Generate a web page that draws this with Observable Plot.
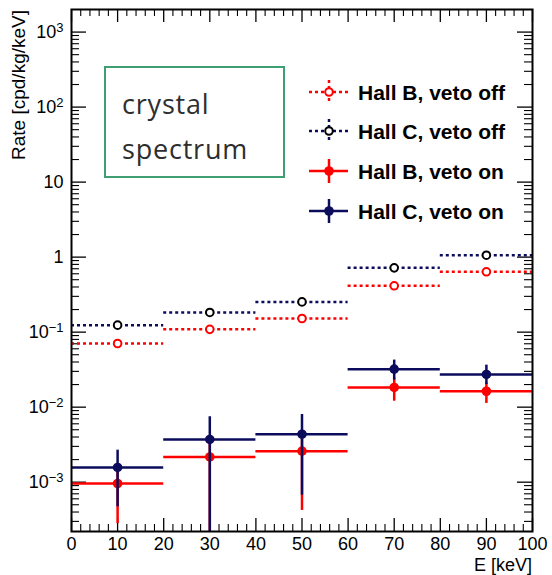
<!DOCTYPE html>
<html><head><meta charset="utf-8">
<script src="https://cdn.jsdelivr.net/npm/d3@7"></script>
<script src="https://cdn.jsdelivr.net/npm/@observablehq/plot@0.6"></script>
<style>body{margin:0;background:#fff} svg{display:block}</style>
</head><body><div id="chart"></div>
<script>
// ---- data ----
const binLow    = [0, 20, 40, 60, 80];
const binHigh   = [20, 40, 60, 80, 100];
const binCenter = [10, 30, 50, 70, 90];

const hallBVetoOff = [0.0706, 0.109, 0.152, 0.415, 0.637];
const hallCVetoOff = [0.124, 0.183, 0.253, 0.72, 1.06];

const hallBVetoOn   = [0.00096, 0.00217, 0.00259, 0.0183, 0.0163];
const hallBVetoOnHi = [0.0016, 0.0040, 0.0045, 0.0245, 0.021];
const hallBVetoOnLo = [0.00028, null, 0.00042, 0.0120, 0.0112];

const hallCVetoOn   = [0.00157, 0.00371, 0.00436, 0.0321, 0.0273];
const hallCVetoOnHi = [0.00267, 0.00743, 0.00798, 0.0424, 0.0363];
const hallCVetoOnLo = [0.00047, null, 0.00067, 0.023, 0.020];

const yMajorTicks = [1e-3, 1e-2, 1e-1, 1, 10, 100, 1000];
const yTickBase = ["10", "10", "10", "1", "10", "10", "10"];
const yTickExp  = ["\u22123", "\u22122", "\u22121", "", "", "2", "3"];
const xMajorTicks = [0, 10, 20, 30, 40, 50, 60, 70, 80, 90, 100];
const xMinorTicks = d3.range(0, 101, 2).filter(v => v % 10 !== 0);

const legendLabels = ["Hall B, veto off", "Hall C, veto off", "Hall B, veto on", "Hall C, veto on"];
const annotationLines = ["crystal", "spectrum"];
const xLabel = "E [keV]";
const yLabel = "Rate [cpd/kg/keV]";

const RED = "#ff0000", NAVY = "#0c0c5c";
const FONT = "'Liberation Sans', Arial, sans-serif";
const yDomain = [2.2e-4, 2000];
const yMinorTicks = [];
for (let e = -4; e <= 3; e++) for (let m = 2; m <= 9; m++) {
  const v = m * Math.pow(10, e);
  if (v > yDomain[0] && v < yDomain[1]) yMinorTicks.push(v);
}

const table = (vals, hi, lo) => binCenter.map((c, i) => ({
  c, x0: binLow[i], x1: binHigh[i], v: vals[i],
  hi: hi ? hi[i] : null, lo: lo ? (lo[i] == null ? 1e-6 : lo[i]) : null
}));
const offB = table(hallBVetoOff), offC = table(hallCVetoOff);
const onB = table(hallBVetoOn, hallBVetoOnHi, hallBVetoOnLo);
const onC = table(hallCVetoOn, hallCVetoOnHi, hallCVetoOnLo);

const W = 552, H = 575, mt = 9, mr = 20, mb = 44, ml = 71;
const fw = W - ml - mr, fh = H - mt - mb;

const chart = Plot.plot({
  width: W, height: H,
  marginTop: mt, marginRight: mr, marginBottom: mb, marginLeft: ml,
  style: {fontFamily: FONT, color: "black", background: "white"},
  x: {domain: [0, 100]},
  y: {type: "log", domain: yDomain},
  marks: [
    // ticks (ROOT style, inward, mirrored)
    Plot.tickY(yMajorTicks, {y: d => d, insetRight: fw - 15, strokeWidth: 1.3}),
    Plot.tickY(yMajorTicks, {y: d => d, insetLeft: fw - 15, strokeWidth: 1.3}),
    Plot.tickY(yMinorTicks, {y: d => d, insetRight: fw - 8, strokeWidth: 1.1}),
    Plot.tickY(yMinorTicks, {y: d => d, insetLeft: fw - 8, strokeWidth: 1.1}),
    Plot.tickX(xMajorTicks, {x: d => d, insetTop: fh - 13, strokeWidth: 1.3}),
    Plot.tickX(xMajorTicks, {x: d => d, insetBottom: fh - 13, strokeWidth: 1.3}),
    Plot.tickX(xMinorTicks, {x: d => d, insetTop: fh - 7, strokeWidth: 1.1}),
    Plot.tickX(xMinorTicks, {x: d => d, insetBottom: fh - 7, strokeWidth: 1.1}),
    Plot.axisY({ticks: yMajorTicks, tickSize: 0, tickPadding: 8, fontSize: 18,
      tickFormat: d => { const i = yMajorTicks.indexOf(d); return yTickBase[i] + (yTickExp[i] ? "^" + yTickExp[i] : ""); },
      label: null}),
    Plot.axisX({ticks: xMajorTicks, tickSize: 0, tickPadding: 6, fontSize: 18, label: null}),
    // veto off: dotted bin lines + hollow markers
    Plot.ruleY(offB, {y: "v", x1: "x0", x2: "x1", stroke: RED, strokeWidth: 2.5, strokeDasharray: "3,3"}),
    Plot.ruleY(offC, {y: "v", x1: "x0", x2: "x1", stroke: NAVY, strokeWidth: 2.5, strokeDasharray: "3,3"}),
    Plot.dot(offB, {x: "c", y: "v", r: 3.8, stroke: RED, strokeWidth: 2, fill: "white"}),
    Plot.dot(offC, {x: "c", y: "v", r: 3.8, stroke: "black", strokeWidth: 2, fill: "white"}),
    // veto on: solid bin lines + error bars + filled markers
    Plot.ruleY(onB, {y: "v", x1: "x0", x2: "x1", stroke: RED, strokeWidth: 2.5}),
    Plot.ruleX(onB, {x: "c", y1: "lo", y2: "hi", stroke: RED, strokeWidth: 2.5, clip: true}),
    Plot.dot(onB, {x: "c", y: "v", r: 4.8, fill: RED}),
    Plot.ruleY(onC, {y: "v", x1: "x0", x2: "x1", stroke: NAVY, strokeWidth: 2.5}),
    Plot.ruleX(onC, {x: "c", y1: "lo", y2: "hi", stroke: NAVY, strokeWidth: 2.5, clip: true}),
    Plot.dot(onC, {x: "c", y: "v", r: 4.8, fill: NAVY}),
    Plot.frame({stroke: "black", strokeWidth: 2})
  ]
});
document.getElementById("chart").appendChild(chart);

const svg = d3.select(chart);
// superscript exponents on y tick labels
svg.selectAll("text").each(function() {
  const t = d3.select(this);
  const s = t.text();
  const m = /^(\d+)\^(.+)$/.exec(s);
  if (!m) return;
  t.text(m[1]);
  t.append("tspan").attr("dy", "-0.45em").attr("font-size", 13).text(m[2]);
});

// ---- overlay: axis titles, annotation box, legend ----
svg.append("text").attr("x", 25).attr("y", 10)
  .attr("transform", "rotate(-90,25,10)").attr("text-anchor", "end")
  .attr("font-family", FONT).attr("font-size", 19).attr("fill", "black")
  .text(yLabel);
svg.append("text").attr("x", W - mr).attr("y", 571).attr("text-anchor", "end")
  .attr("font-family", FONT).attr("font-size", 18).attr("fill", "black")
  .text(xLabel);

svg.append("rect").attr("x", 105).attr("y", 67).attr("width", 179).attr("height", 110)
  .attr("fill", "white").attr("stroke", "#3f9f72").attr("stroke-width", 2);
annotationLines.forEach((t, i) => {
  svg.append("text").attr("x", 122).attr("y", 114 + i * 45).attr("text-anchor", "start")
    .attr("font-family", "'Open Sans', sans-serif").attr("font-size", 27)
    .attr("letter-spacing", 0.8).attr("fill", "#2e2e2e").text(t);
});

const legendRows = [92, 131, 171, 211];
const legStyle = [
  {color: RED, marker: RED, dotted: true},
  {color: NAVY, marker: "black", dotted: true},
  {color: RED, marker: RED, dotted: false},
  {color: NAVY, marker: NAVY, dotted: false}
];
const lg = svg.append("g");
legendLabels.forEach((lab, i) => {
  const y = legendRows[i], s = legStyle[i];
  const dash = s.dotted ? "3,3" : null;
  lg.append("line").attr("x1", 309).attr("x2", 348).attr("y1", y).attr("y2", y)
    .attr("stroke", s.color).attr("stroke-width", 2.5).attr("stroke-dasharray", dash);
  lg.append("line").attr("x1", 329).attr("x2", 329).attr("y1", y - 12).attr("y2", y + 12)
    .attr("stroke", s.color).attr("stroke-width", 2.5).attr("stroke-dasharray", dash);
  if (s.dotted) {
    lg.append("circle").attr("cx", 329).attr("cy", y).attr("r", 3.8)
      .attr("fill", "white").attr("stroke", s.marker).attr("stroke-width", 2);
  } else {
    lg.append("circle").attr("cx", 329).attr("cy", y).attr("r", 4.8).attr("fill", s.marker);
  }
  lg.append("text").attr("x", 358).attr("y", y).attr("dy", "0.36em").attr("text-anchor", "start")
    .attr("font-family", FONT).attr("font-weight", "bold")
    .attr("font-size", 21).attr("fill", "black").text(lab);
});
</script>
</body></html>
